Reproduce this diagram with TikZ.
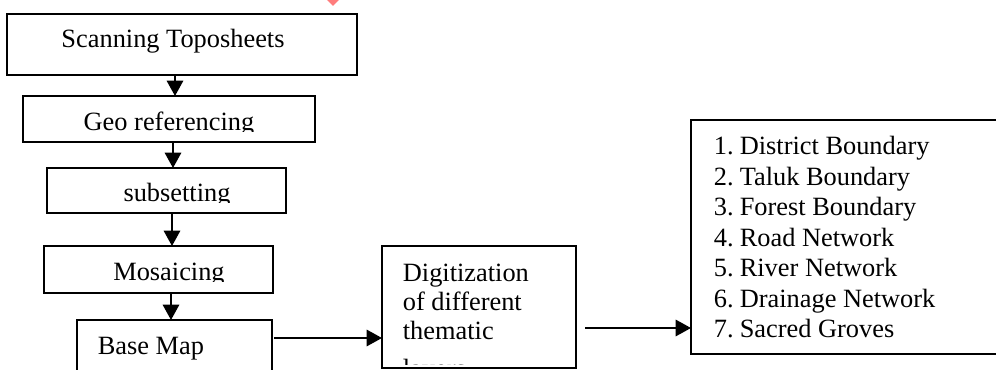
\documentclass[tikz,border=0pt]{standalone}
\usepackage{fontspec}
\setmainfont{Liberation Serif}
\usetikzlibrary{arrows.meta,fit}
\definecolor{markpink}{RGB}{255,125,125}
\begin{document}
\begin{tikzpicture}[x=0.455pt,y=-0.455pt, line width=0.8pt,
  box/.style={draw, inner sep=0pt, outer sep=0pt},
  txt/.style={inner sep=0pt, font=\fontsize{12}{14}\selectfont},
  arr/.style={-{Triangle[width=7.5pt,length=7pt]}}]
\useasboundingbox (0,0) rectangle (996,370);
\clip (0,0) rectangle (996,370);

% small pink mark at the top
\fill[markpink] (327,0) -- (339,0) -- (335,4) -- (333,6) -- (331,4) -- cycle;

% boxes
\node[box, fit={(7,14) (357,75)}] (A) {};
\node[box, fit={(23,96) (315,142)}] (B) {};
\node[box, fit={(47,168) (286,213)}] (C) {};
\node[box, fit={(44,246) (273,293)}] (D) {};
\node[box, fit={(77,320) (272,390)}] (E) {};
\node[box, fit={(382,246) (576,368)}] (F) {};
\node[box, fit={(691,120) (1010,354)}] (G) {};

% texts
\node[txt, anchor=base] (At) at (173,48) {Scanning Toposheets};
\begin{scope}
  \clip (B.north west) rectangle (315,132);
  \node[txt, anchor=base] (Bt) at (169,131) {Geo referencing};
\end{scope}
\begin{scope}
  \clip (C.north west) rectangle (286,203);
  \node[txt, anchor=base] (Ct) at (177,202) {subsetting};
\end{scope}
\begin{scope}
  \clip (D.north west) rectangle (273,282);
  \node[txt, anchor=base] (Dt) at (169,281) {Mosaicing};
\end{scope}
\node[txt, anchor=base west] (Et) at (97,355) {Base Map};
\node[txt, anchor=base west] (F1) at (402,282) {Digitization};
\node[txt, anchor=base west] (F2) at (402,311) {of different};
\node[txt, anchor=base west] (F3) at (402,340) {thematic};
\begin{scope}
  \clip (F.north west) rectangle (576,365);
  \node[txt, anchor=base west] (F4) at (402,378) {layers};
\end{scope}
\foreach \n/\t [count=\i] in {1/District Boundary, 2/Taluk Boundary, 3/Forest Boundary, 4/Road Network, 5/River Network, 6/Drainage Network, 7/Sacred Groves}
  \node[txt, anchor=base west] (G\i) at (713,{155+30.5*(\i-1)}) {\makebox[11.8pt][l]{\n.}\t};

% arrow positions
\coordinate (x1) at (175,0);
\coordinate (x2) at (173,0);
\coordinate (x3) at (172,0);
\coordinate (x4) at (171,0);
\coordinate (y5) at (0,338);
\coordinate (s6) at (585,328);

% connectors
\draw[arr] (A.south -| x1) -- (B.north -| x1);
\draw[arr] (B.south -| x2) -- (C.north -| x2);
\draw[arr] (C.south -| x3) -- (D.north -| x3);
\draw[arr] (D.south -| x4) -- (E.north -| x4);
\draw[arr] ([xshift=1pt]E.east |- y5) -- (F.west |- y5);
\draw[arr] (s6) -- (G.west |- s6);
\end{tikzpicture}
\end{document}
